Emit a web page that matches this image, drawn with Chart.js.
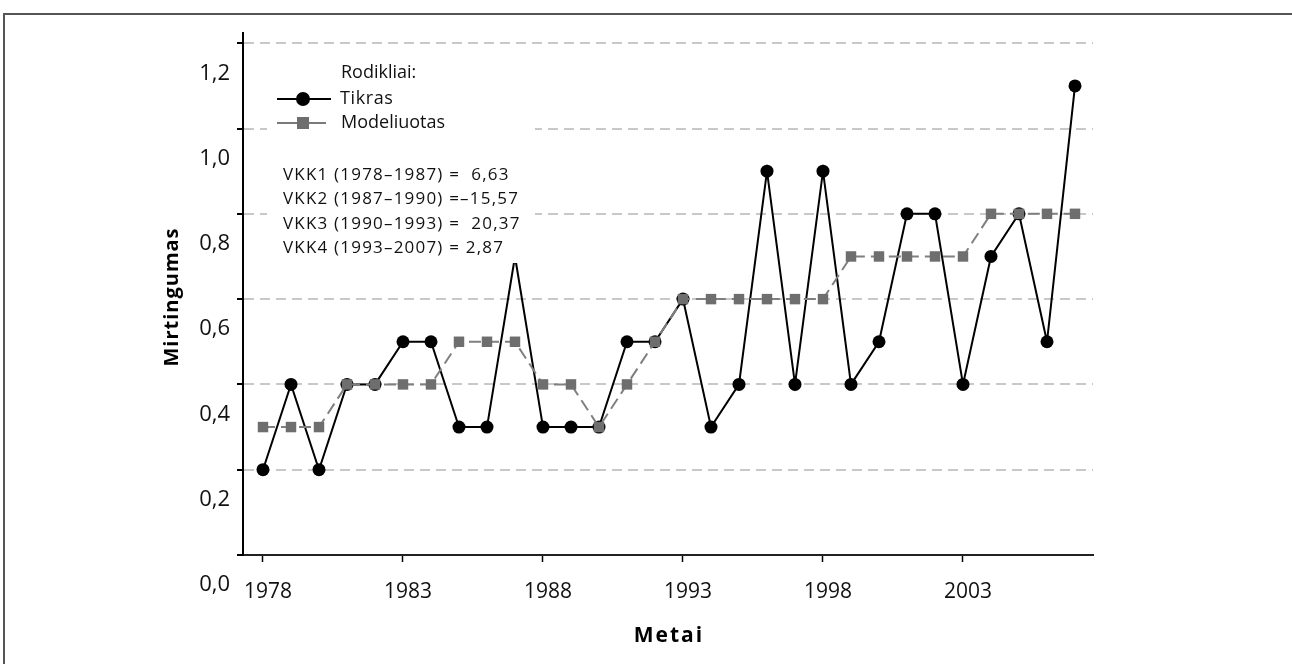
<!DOCTYPE html>
<html>
<head>
<meta charset="utf-8">
<title>Mirtingumas</title>
<script src="https://cdn.jsdelivr.net/npm/chart.js@4.4.1/dist/chart.umd.min.js"></script>
<style>
    html, body { margin: 0; padding: 0; background: #fff; }
    #wrap { position: relative; width: 1292px; height: 664px; }
</style>
</head>
<body>
<div id="wrap"><canvas id="chart" width="1292" height="664"></canvas></div>
<script>
// Data
const years = [1978, 1979, 1980, 1981, 1982, 1983, 1984, 1985, 1986, 1987,
               1988, 1989, 1990, 1991, 1992, 1993, 1994, 1995, 1996, 1997,
               1998, 1999, 2000, 2001, 2002, 2003, 2004, 2005, 2006, 2007];
const tikras = [0.2, 0.4, 0.2, 0.4, 0.4, 0.5, 0.5, 0.3, 0.3, 0.7,
                0.3, 0.3, 0.3, 0.5, 0.5, 0.6, 0.3, 0.4, 0.9, 0.4,
                0.9, 0.4, 0.5, 0.8, 0.8, 0.4, 0.7, 0.8, 0.5, 1.1];
const modeliuotas = [0.3, 0.3, 0.3, 0.4, 0.4, 0.4, 0.4, 0.5, 0.5, 0.5,
                     0.4, 0.4, 0.3, 0.4, 0.5, 0.6, 0.6, 0.6, 0.6, 0.6,
                     0.6, 0.7, 0.7, 0.7, 0.7, 0.7, 0.8, 0.8, 0.8, 0.8];
const xTicks = [1978, 1983, 1988, 1993, 1998, 2003];
const yTicks = [0, 0.2, 0.4, 0.6, 0.8, 1.0, 1.2];
const legendTitle = 'Rodikliai:';
const seriesNames = ['Tikras', 'Modeliuotas'];
const vkkLines = [
    'VKK1 (1978\u20131987) =  6,63',
    'VKK2 (1987\u20131990) =\u201315,57',
    'VKK3 (1990\u20131993) =  20,37',
    'VKK4 (1993\u20132007) = 2,87'
];
const xTitle = 'Metai';
const yTitle = 'Mirtingumas';

const FONT = "'Open Sans', 'Noto Sans', sans-serif";
Chart.defaults.font.family = FONT;
Chart.defaults.color = '#111';

const toPoints = vals => years.map((y, i) => ({ x: y, y: vals[i] }));

// frame, axis titles and the boxed legend/annotation
const decorations = {
    id: 'decorations',
    afterDatasetsDraw(chart) {
        const ctx = chart.ctx;
        ctx.save();
        // white box covering grid (and the 1987 peak) behind legend
        ctx.fillStyle = '#fff';
        ctx.fillRect(267, 54, 268, 209);

        ctx.textBaseline = 'middle';
        ctx.textAlign = 'left';
        ctx.fillStyle = '#111';
        ctx.font = '18px ' + FONT;
        ctx.fillText(legendTitle, 341, 73);

        // Tikras sample
        ctx.strokeStyle = '#000';
        ctx.lineWidth = 2;
        ctx.beginPath(); ctx.moveTo(277, 99); ctx.lineTo(331, 99); ctx.stroke();
        ctx.fillStyle = '#000';
        ctx.beginPath(); ctx.arc(303, 99, 7, 0, Math.PI * 2); ctx.fill();
        ctx.fillStyle = '#111';
        ctx.letterSpacing = '0.6px';
        ctx.fillText(seriesNames[0], 340, 99);
        ctx.letterSpacing = '0px';

        // Modeliuotas sample
        ctx.strokeStyle = '#7a7a7a';
        ctx.beginPath(); ctx.moveTo(277, 123); ctx.lineTo(326, 123); ctx.stroke();
        ctx.fillStyle = '#6e6e6e';
        ctx.fillRect(297, 117, 12, 12);
        ctx.fillStyle = '#111';
        ctx.fillText(seriesNames[1], 341, 123);

        ctx.font = '17px ' + FONT;
        ctx.letterSpacing = '1.2px';
        vkkLines.forEach((t, i) => ctx.fillText(t, 283, 175 + i * 24.5));
        ctx.letterSpacing = '0px';
        ctx.restore();
    },
    afterDraw(chart) {
        const ctx = chart.ctx;
        ctx.save();
        // page frame
        ctx.strokeStyle = '#555';
        ctx.lineWidth = 2;
        ctx.beginPath();
        ctx.moveTo(4, 664); ctx.lineTo(4, 14); ctx.lineTo(1292, 14);
        ctx.stroke();

        ctx.fillStyle = '#000';
        ctx.textAlign = 'center';
        ctx.textBaseline = 'middle';
        ctx.font = 'bold 21px ' + FONT;
        ctx.letterSpacing = '2px';
        ctx.fillText(xTitle, 669, 636);

        ctx.translate(172, 297);
        ctx.rotate(-Math.PI / 2);
        ctx.font = 'bold 20px ' + FONT;
        ctx.letterSpacing = '1px';
        ctx.fillText(yTitle, 0, 0);
        ctx.letterSpacing = '0px';
        ctx.restore();
    }
};

new Chart(document.getElementById('chart'), {
    type: 'line',
    data: {
        datasets: [
            {
                label: seriesNames[1],
                data: toPoints(modeliuotas),
                borderColor: '#7f7f7f',
                borderWidth: 2,
                borderDash: [12, 6],
                pointStyle: 'rect',
                pointRadius: 7.4,
                pointBackgroundColor: '#6e6e6e',
                pointBorderWidth: 0,
                tension: 0,
                order: 1
            },
            {
                label: seriesNames[0],
                data: toPoints(tikras),
                borderColor: '#000',
                borderWidth: 2,
                pointStyle: 'circle',
                pointRadius: 6.5,
                pointBackgroundColor: '#000',
                pointBorderWidth: 0,
                tension: 0,
                order: 2
            }
        ]
    },
    options: {
        responsive: false,
        devicePixelRatio: 1,
        animation: false,
        layout: { padding: { top: 33, right: 199, left: 0, bottom: 0 } },
        plugins: { legend: { display: false }, tooltip: { enabled: false } },
        scales: {
            x: {
                type: 'linear',
                min: 1977.286,
                max: 2007.643,
                afterBuildTicks: axis => { axis.ticks = xTicks.map(v => ({ value: v })); },
                afterFit: axis => { axis.height = 109; },
                grid: {
                    drawOnChartArea: false,
                    tickLength: 7,
                    tickColor: '#000',
                    tickWidth: 1.5
                },
                border: { color: '#222', width: 2 },
                ticks: {
                    autoSkip: false,
                    maxRotation: 0,
                    padding: 17,
                    labelOffset: 5,
                    color: '#111',
                    font: { size: 21 },
                    callback: v => String(v)
                }
            },
            y: {
                min: 0,
                max: 1.224,
                afterBuildTicks: axis => { axis.ticks = yTicks.map(v => ({ value: v })); },
                afterFit: axis => { axis.width = 243; },
                grid: {
                    color: c => (c.tick && c.tick.value === 0) ? 'rgba(0,0,0,0)' : '#c8c8c8',
                    lineWidth: 2,
                    tickLength: 6,
                    tickColor: '#000',
                    tickWidth: 2
                },
                border: { color: '#000', width: 2, dash: [10, 6] },
                ticks: {
                    padding: 7,
                    labelOffset: 30,
                    color: '#111',
                    font: { size: 22 },
                    callback: v => v.toFixed(1).replace('.', ',')
                }
            }
        }
    },
    plugins: [decorations]
});
</script>
</body>
</html>
